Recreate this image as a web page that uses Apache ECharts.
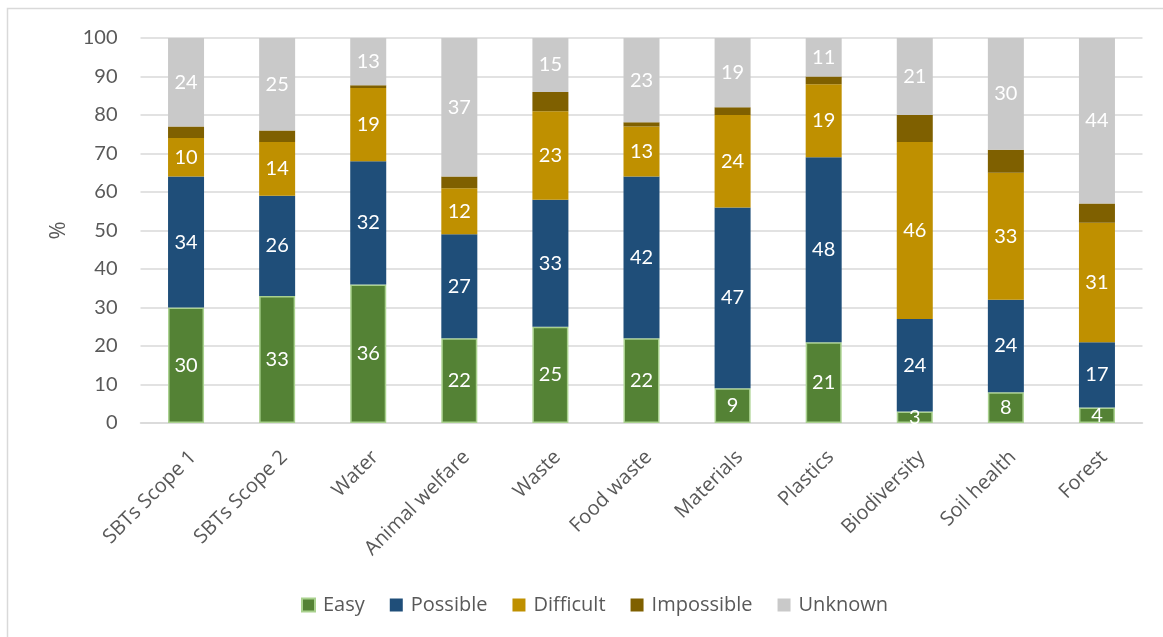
<!DOCTYPE html>
<html>
<head>
<meta charset="utf-8">
<script src="https://cdn.jsdelivr.net/npm/echarts@6/dist/echarts.min.js"></script>
<style>
  html, body { margin: 0; padding: 0; background: #ffffff; }
  #chart { width: 1163px; height: 637px; }
</style>
</head>
<body>
<div id="chart"></div>
<script>
const categories = ['SBTs Scope 1', 'SBTs Scope 2', 'Water', 'Animal welfare', 'Waste', 'Food waste', 'Materials', 'Plastics', 'Biodiversity', 'Soil health', 'Forest'];
const easy = [30, 33, 36, 22, 25, 22, 9, 21, 3, 8, 4];
const possible = [34, 26, 32, 27, 33, 42, 47, 48, 24, 24, 17];
const difficult = [10, 14, 19, 12, 23, 13, 24, 19, 46, 33, 31];
const impossible = [3, 3, 0.7, 3, 5, 1.1, 2, 2, 7, 6, 5];
const unknown = [24, 25, 13, 37, 15, 23, 19, 11, 21, 30, 44];
const yTicks = [0, 10, 20, 30, 40, 50, 60, 70, 80, 90, 100];

const FONT = 'Lato';
const FONT2 = 'Open Sans';
const TXT = '#595959';

function mkSeries(name, data, color, showLabel, border) {
  return {
    name: name,
    type: 'bar',
    stack: 'total',
    barWidth: 36,
    data: data,
    clip: true,
    itemStyle: {
      color: color,
      borderColor: border || color,
      borderWidth: border ? 1.5 : 0
    },
    label: {
      show: showLabel,
      position: 'inside',
      color: '#ffffff',
      fontFamily: FONT,
      fontSize: 20
    },
    emphasis: { disabled: true }
  };
}

const chart = echarts.init(document.getElementById('chart'), null, { renderer: 'canvas' });
chart.setOption({
  animation: false,
  backgroundColor: '#ffffff',
  graphic: [{
    type: 'rect',
    shape: { x: 7.5, y: 8.5, width: 1200, height: 700 },
    style: { fill: 'none', stroke: '#d9d9d9', lineWidth: 1.5 },
    silent: true
  }],
  grid: { left: 140.5, right: 20.5, top: 38, bottom: 214, containLabel: false },
  legend: {
    data: ['Easy', 'Possible', 'Difficult', 'Impossible', 'Unknown'],
    left: 296,
    top: 590,
    itemWidth: 13,
    itemHeight: 13,
    itemGap: 25,
    icon: 'rect',
    textStyle: { color: TXT, fontFamily: FONT2, fontSize: 20, padding: [0, 0, 0, 3] }
  },
  xAxis: {
    type: 'category',
    data: categories,
    axisLine: { show: true, lineStyle: { color: '#d9d9d9', width: 1.5 } },
    axisTick: { show: false },
    axisLabel: {
      rotate: 45,
      interval: 0,
      margin: 24,
      verticalAlign: 'top',
      color: TXT,
      fontFamily: FONT2,
      fontSize: 20
    }
  },
  yAxis: {
    type: 'value',
    min: yTicks[0],
    max: yTicks[yTicks.length - 1],
    interval: 10,
    name: '%',
    nameLocation: 'middle',
    nameGap: 71,
    nameRotate: 90,
    nameTextStyle: { color: TXT, fontFamily: FONT2, fontSize: 22 },
    axisLine: { show: false },
    axisTick: { show: false },
    axisLabel: { color: TXT, fontFamily: FONT, fontSize: 20, margin: 23 },
    splitLine: { lineStyle: { color: '#d9d9d9', width: 1.5 } }
  },
  series: [
    mkSeries('Easy', easy, '#548235', true, '#a9d18e'),
    mkSeries('Possible', possible, '#1f4e79', true),
    mkSeries('Difficult', difficult, '#bf9000', true),
    mkSeries('Impossible', impossible, '#7f6000', false),
    mkSeries('Unknown', unknown, '#c9c9c9', true)
  ]
});
</script>
</body>
</html>
